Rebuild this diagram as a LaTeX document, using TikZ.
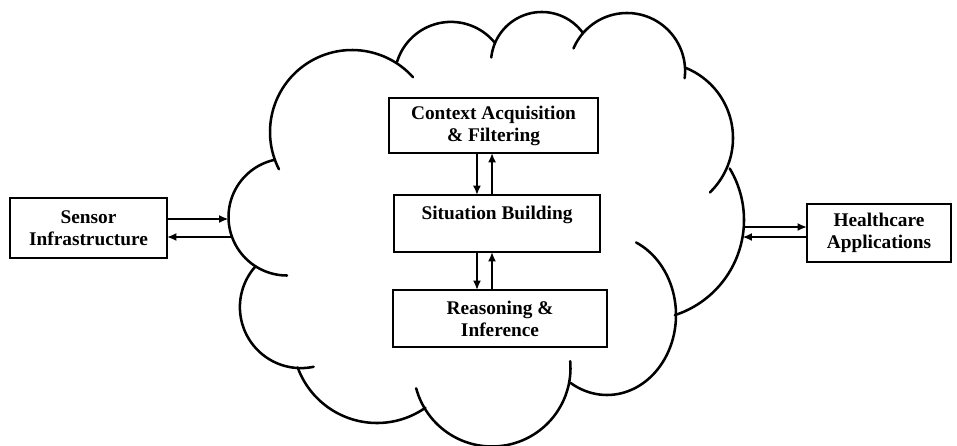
\documentclass[tikz,border=0pt]{standalone}
\usepackage{fontspec}
\setmainfont{Liberation Serif}
\usetikzlibrary{arrows.meta}
\newcommand\cloudlobe[5]{\draw[cloudline] plot[domain=#4:#5, samples=60, variable=\t] ({#1+#3*cos(\t)},{#2+#3*sin(\t)});}
\begin{document}
\begin{tikzpicture}[x=0.75pt,y=-0.75pt,
  box/.style={draw=black, line width=2.1pt, fill=white, inner sep=0pt, outer sep=0pt, align=center,
    font=\fontsize{14.5}{16.5}\selectfont\bfseries},
  cloudline/.style={line width=1.9pt, line cap=round, line join=round},
  arr/.style={line width=2.1pt, -{Latex[length=7pt,width=6pt]}}]
\path[fill=white, use as bounding box] (0,0) rectangle (957,446);
% cloud lobes
\cloudlobe{287}{217}{58.5}{90}{258}
\cloudlobe{352}{132}{82}{153}{318}
\cloudlobe{451}{78.3}{56.4}{197}{321}
\cloudlobe{541.8}{62.8}{50.8}{186}{324}
\cloudlobe{627}{71.1}{58.1}{203}{367}
\cloudlobe{657.4}{138}{75.6}{292}{406}
\cloudlobe{644}{220}{100}{329}{432}
\draw[cloudline] plot[domain=295:482, samples=60, variable=\t] ({607+69*cos(\t)},{315+80*sin(\t)});
\cloudlobe{492}{368}{78.5}{-5}{165}
\cloudlobe{377}{338.6}{84.4}{55}{160}
\cloudlobe{300.9}{307.1}{61}{78}{221}
% cloud edge points
\coordinate (cl1) at (228.5,219);
\coordinate (cl2) at (232,237);
\coordinate (cr1) at (743.8,227);
\coordinate (cr2) at (742.5,237);
% boxes
\node[box, minimum width=156.75pt, minimum height=41.25pt] (ctx) at (493.5,125.5) {Context Acquisition\\\& Filtering};
\node[box, minimum width=154.5pt, minimum height=42.75pt] (sit) at (497,223.5) {Situation Building\\\mbox{}};
\node[box, minimum width=160.5pt, minimum height=42.75pt] (rea) at (500,318.5) {Reasoning \&\\Inference};
\node[box, minimum width=117.75pt, minimum height=45pt] (sen) at (88.5,228) {Sensor\\Infrastructure};
\node[box, minimum width=108pt, minimum height=43.5pt] (hc) at (879,233) {Healthcare\\Applications};
% arrows
\draw[arr] (sen.east |- cl1) -- (cl1);
\draw[arr] (cl2) -- (sen.east |- cl2);
\draw[arr] (cr1) -- (cr1 -| hc.west);
\draw[arr] (hc.west |- cr2) -- (cr2);
\draw[arr] ([xshift=-12.4pt]ctx.south) -- ([xshift=-12.4pt]ctx.south |- sit.north);
\draw[arr] ([xshift=-1.1pt]ctx.south |- sit.north) -- ([xshift=-1.1pt]ctx.south);
\draw[arr] ([xshift=-15pt]sit.south) -- ([xshift=-15pt]sit.south |- rea.north);
\draw[arr] ([xshift=-3.75pt]sit.south |- rea.north) -- ([xshift=-3.75pt]sit.south);
\end{tikzpicture}
\end{document}
